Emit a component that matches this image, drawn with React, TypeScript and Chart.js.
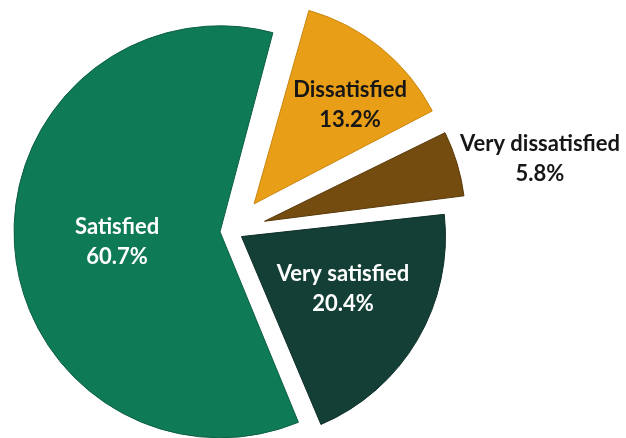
import React, { useEffect, useRef } from "react";
import { Chart, registerables } from "chart.js";

Chart.register(...registerables);

const categories = ["Dissatisfied", "Very dissatisfied", "Very satisfied", "Satisfied"];
const values = [13.2, 5.8, 20.4, 60.7];
const valueLabels = ["13.2%", "5.8%", "20.4%", "60.7%"];
const colors = ["#E99E18", "#744C0F", "#143F36", "#0F7A56"];
const edgeColors = ["#C9860F", "#573808", "#0D2E26", "#0B5F43"];
const textColors = ["#161616", "#161616", "#FFFFFF", "#FFFFFF"];
const offsets = [140, 136, 44, 48];
// visible outer radius of each exploded slice
const sliceRadii = [201, 201, 204, 206];
// label placement: fraction of base radius from centre, angle tweak in degrees
const labelPlace = [
  { f: 0.89, da: 4 },
  { f: 1.63, da: 3.6 },
  { f: 0.645, da: -2.9 },
  { f: 0.595, da: -1.5 },
];

const radiusPlugin = {
  id: "sliceRadius",
  afterDatasetsUpdate(chart: any) {
    const meta = chart.getDatasetMeta(0);
    meta.data.forEach((arc: any, i: number) => {
      const circ = arc.endAngle - arc.startAngle;
      const fix = 1 - Math.sin(Math.min(Math.PI, circ));
      const bump = (offsets[i] / 4) * fix;
      arc.outerRadius = sliceRadii[i] - bump;
    });
  },
};

const labelPlugin = {
  id: "sliceLabels",
  afterDatasetsDraw(chart: any) {
    const meta = chart.getDatasetMeta(0);
    const baseR = meta.controller.outerRadius;
    const ctx = chart.ctx as CanvasRenderingContext2D;
    ctx.save();
    meta.data.forEach((arc: any, i: number) => {
      const p = arc.getProps(["x", "y", "startAngle", "endAngle"], true);
      const mid = (p.startAngle + p.endAngle) / 2 + (labelPlace[i].da * Math.PI) / 180;
      const r = baseR * labelPlace[i].f;
      const lx = p.x + Math.cos(mid) * r;
      const ly = p.y + Math.sin(mid) * r;
      ctx.font = "bold 22px Lato";
      ctx.fillStyle = textColors[i];
      ctx.textAlign = "center";
      ctx.textBaseline = "middle";
      ctx.fillText(categories[i], lx, ly - 15);
      ctx.fillText(valueLabels[i], lx, ly + 15);
    });
    ctx.restore();
  },
};

export default function App() {
  const ref = useRef<HTMLCanvasElement | null>(null);
  useEffect(() => {
    document.body.style.margin = "0";
    document.body.style.background = "#ffffff";
    const canvas = ref.current;
    if (!canvas) return;
    const chart = new Chart(canvas, {
      type: "pie",
      data: {
        labels: categories,
        datasets: [
          {
            data: values,
            backgroundColor: colors,
            borderColor: edgeColors,
            borderWidth: 1,
            offset: offsets,
            clip: false,
          } as any,
        ],
      },
      options: {
        responsive: false,
        animation: false,
        rotation: 15.4,
        radius: 194,
        layout: { padding: { left: 0, right: 162, top: 24, bottom: 0 } },
        plugins: {
          legend: { display: false },
          tooltip: { enabled: false },
          title: { display: false },
        },
      } as any,
      plugins: [radiusPlugin, labelPlugin],
    });
    return () => chart.destroy();
  }, []);
  return (
    <div style={{ width: 626, height: 438, background: "#fff" }}>
      <canvas ref={ref} width={626} height={438} style={{ display: "block" }} />
    </div>
  );
}
